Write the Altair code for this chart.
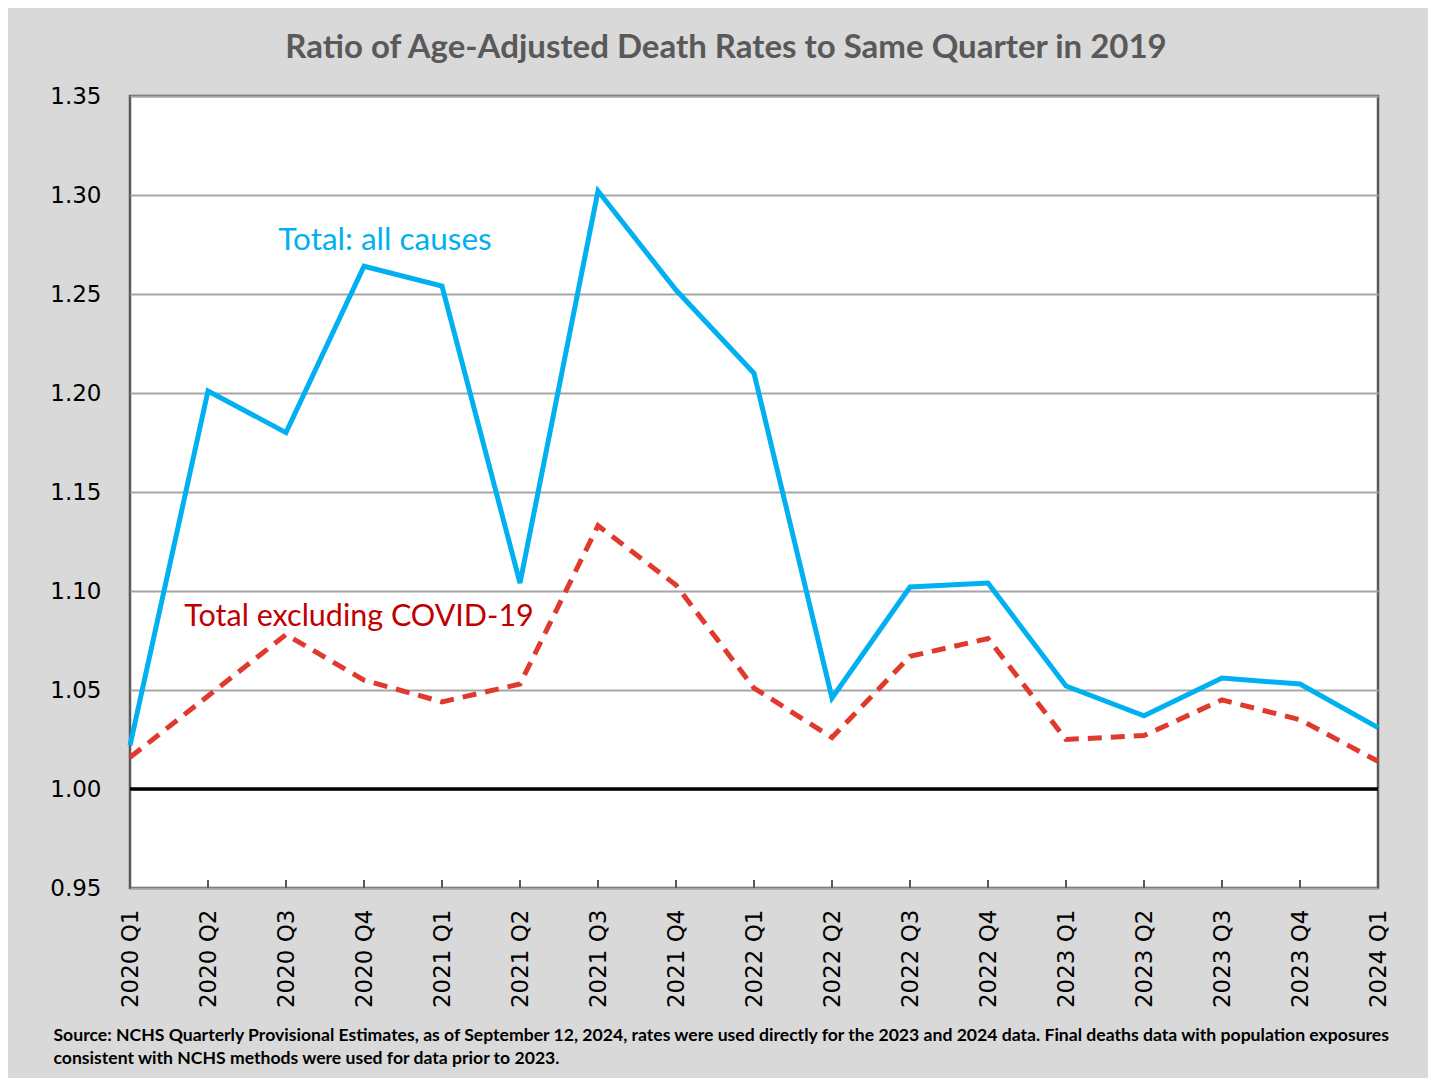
import altair as alt
import pandas as pd

quarters = ["2020 Q1", "2020 Q2", "2020 Q3", "2020 Q4",
            "2021 Q1", "2021 Q2", "2021 Q3", "2021 Q4",
            "2022 Q1", "2022 Q2", "2022 Q3", "2022 Q4",
            "2023 Q1", "2023 Q2", "2023 Q3", "2023 Q4",
            "2024 Q1"]
total_all = [1.022, 1.201, 1.180, 1.264, 1.254, 1.104, 1.302, 1.252,
             1.210, 1.046, 1.102, 1.104, 1.052, 1.037, 1.056, 1.053, 1.031]
total_ex_covid = [1.016, 1.047, 1.078, 1.055, 1.044, 1.053, 1.133, 1.103,
                  1.051, 1.026, 1.067, 1.076, 1.025, 1.027, 1.045, 1.035, 1.014]

y_ticks = [0.95, 1.00, 1.05, 1.10, 1.15, 1.20, 1.25, 1.30, 1.35]

ann_labels = ["Total: all causes", "Total excluding COVID-19"]
ann_quarter = ["2020 Q4", "2020 Q4"]
ann_value = [1.277, 1.087]
ann_dx = [21, -5]
ann_color = ["#00b0f0", "#c00000"]
ann_size = [31.5, 30.5]

title_text = "Ratio of Age-Adjusted Death Rates to Same Quarter in 2019"
source_lines = [
    "Source: NCHS Quarterly Provisional Estimates, as of September 12, 2024, rates were used directly for the 2023 and 2024 data. Final deaths data with population exposures",
    "consistent with NCHS methods were used for data prior to 2023.",
]

df = pd.DataFrame({"quarter": quarters, "total": total_all, "excl": total_ex_covid,
                   "base": [0.95] * len(quarters), "tick": [0.954] * len(quarters)})

x_scale = alt.Scale(type="point", domain=quarters, padding=0)
y_scale = alt.Scale(domain=[0.95, 1.35], nice=False, zero=False)

x_enc = alt.X("quarter:N", scale=x_scale, sort=quarters,
              axis=alt.Axis(title=source_lines, labelAngle=-90, labelFont="DejaVu Sans",
                            labelFontSize=23, labelColor="#000000", labelPadding=21,
                            ticks=False, domain=False, grid=False,
                            titleFont="Lato", titleFontWeight="bold", titleFontSize=17.6,
                            titleColor="#000000", titleAnchor="start", titleAlign="left",
                            titleBaseline="alphabetic", titleX=-77, titleY=152,
                            titleLineHeight=23, titleAngle=0))
y_axis = alt.Axis(title=None, values=y_ticks, format=".2f", labelFont="DejaVu Sans",
                  labelFontSize=23, labelColor="#000000", labelPadding=29,
                  ticks=False, domain=False, grid=True, gridColor="#a6a6a6",
                  gridWidth=2)

base = alt.Chart(df)

ticks = base.mark_rule(color="#595959", strokeWidth=2).encode(
    x=x_enc,
    y=alt.Y("base:Q", scale=y_scale, axis=y_axis),
    y2="tick:Q",
)

zero_line = alt.Chart(pd.DataFrame({"v": [1.0]})).mark_rule(
    color="#000000", strokeWidth=3.5).encode(y=alt.Y("v:Q", scale=y_scale))

line_excl = base.mark_line(color="#e03a2e", strokeWidth=5, strokeDash=[14, 9]).encode(
    x=alt.X("quarter:N", scale=x_scale, sort=quarters),
    y=alt.Y("excl:Q", scale=y_scale),
)
line_total = base.mark_line(color="#00b0f0", strokeWidth=5).encode(
    x=alt.X("quarter:N", scale=x_scale, sort=quarters),
    y=alt.Y("total:Q", scale=y_scale),
)

ann_layers = []
for lab, q, v, dx, c, fs in zip(ann_labels, ann_quarter, ann_value, ann_dx, ann_color, ann_size):
    d = pd.DataFrame({"label": [lab], "quarter": [q], "value": [v]})
    ann_layers.append(
        alt.Chart(d).mark_text(font="Lato", fontSize=fs, color=c, align="center",
                               baseline="middle", dx=dx).encode(
            x=alt.X("quarter:N", scale=x_scale, sort=quarters),
            y=alt.Y("value:Q", scale=y_scale),
            text="label:N",
        )
    )

chart = alt.layer(ticks, zero_line, line_excl, line_total, *ann_layers).properties(
    width=1248, height=792,
    title=alt.TitleParams(text=title_text, font="Lato", fontSize=33, fontWeight="bold",
                          color="#595959", anchor="middle", baseline="alphabetic",
                          offset=39, dx=-28, dy=45),
    background="#d9d9d9",
    padding={"left": 122, "top": 88, "right": 50, "bottom": 190},
    autosize=alt.AutoSizeParams(type="none"),
).configure_view(
    fill="#ffffff", stroke="#595959", strokeWidth=2.5,
)

chart.save("out.html", embed_options={"renderer": "svg", "actions": False})
